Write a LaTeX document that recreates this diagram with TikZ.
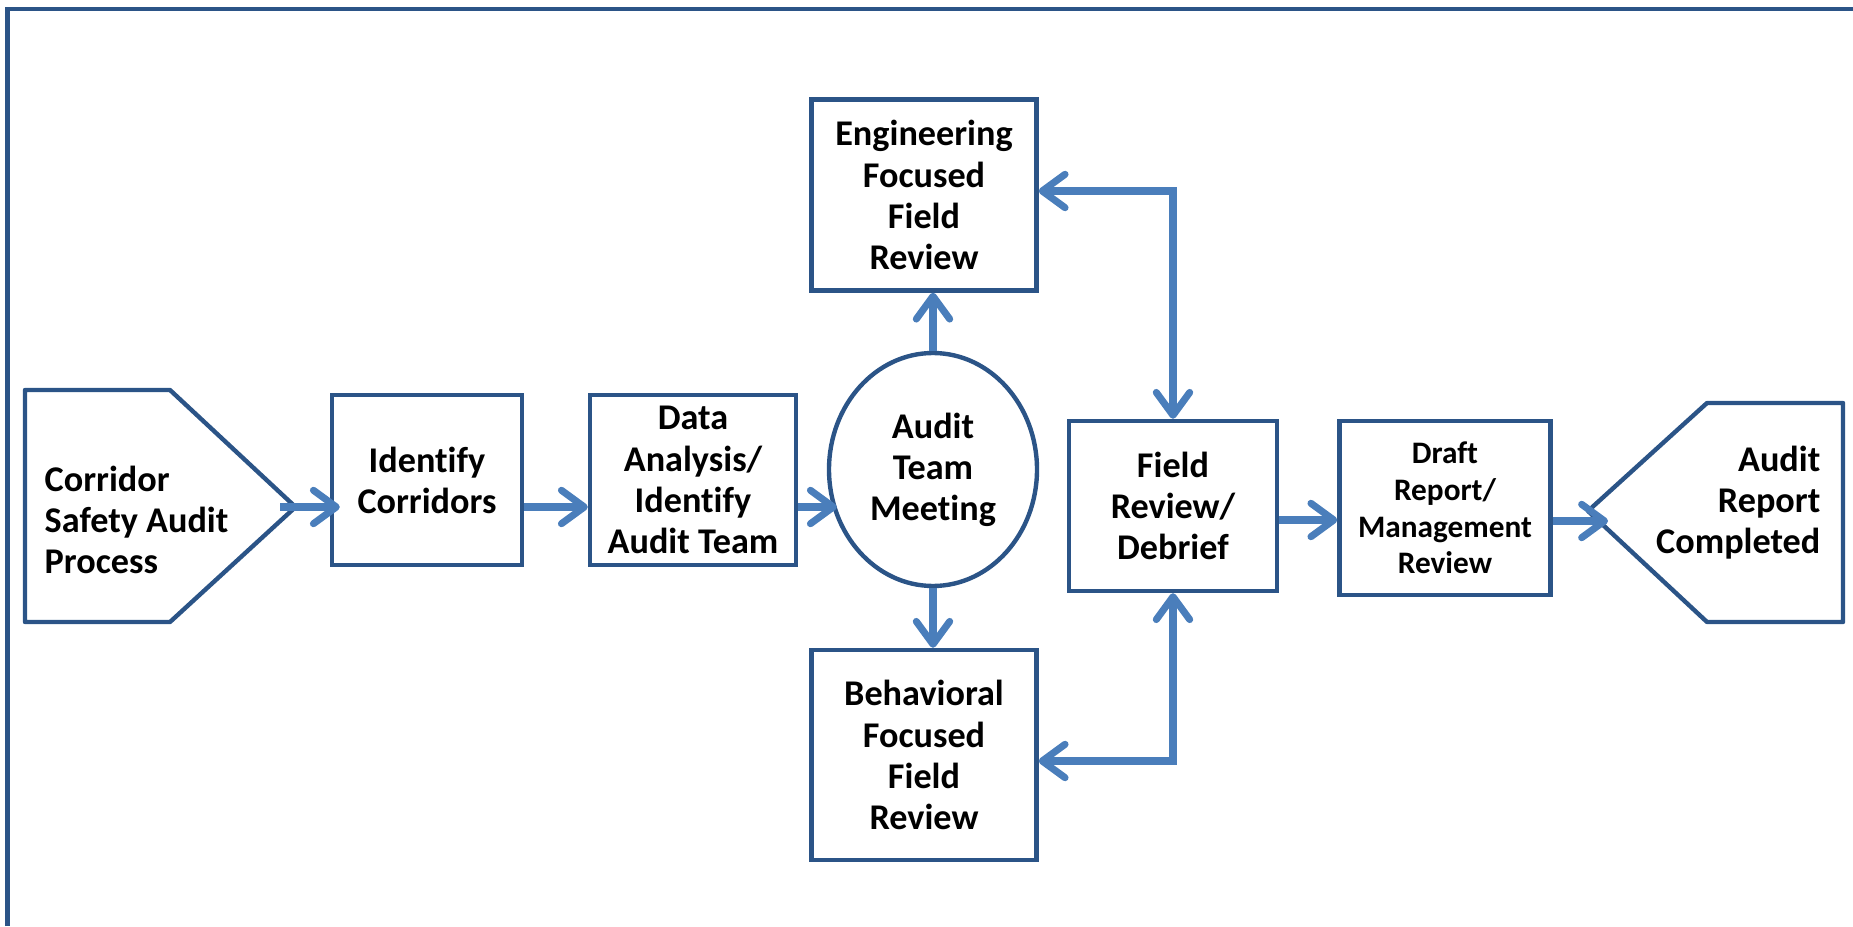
\documentclass[tikz,border=0pt]{standalone}
\usepackage{fontspec}
\setmainfont{Carlito}[Ligatures=NoCommon]
\usepackage{xcolor}
\usepackage{tikz}
\usetikzlibrary{shapes,arrows.meta,positioning,calc}

\definecolor{boxblue}{HTML}{2B5487}
\definecolor{flowblue}{HTML}{4A7EBB}

\begin{document}
\begin{tikzpicture}[
    stepbox/.style={rectangle, draw=boxblue, line width=1.25pt, align=center,
        font=\bfseries\fontsize{10.3}{11.7}\selectfont, inner sep=1pt},
    flow/.style={draw=flowblue, line width=2pt,
        -{Straight Barb[length=6.5pt,width=9.5pt,round]}},
    both/.style={draw=flowblue, line width=2pt,
        {Straight Barb[length=6.5pt,width=9.5pt,round]}-{Straight Barb[length=6.5pt,width=9.5pt,round]}}
]
    \useasboundingbox (0,0) rectangle (18.53,9.26);
    \draw[boxblue, line width=1.2pt] (0.076,0) -- (0.076,9.17) -- (18.6,9.17);

    % Start and end shapes
    \draw[boxblue, line width=1.25pt, line join=round]
        (0.25,5.36) -- (1.70,5.36) -- (2.955,4.19) -- (1.70,3.04) -- (0.25,3.04) -- cycle;
    \coordinate (starttip) at (2.80,4.19);
    \node[align=left, anchor=west, inner sep=0pt, font=\bfseries\fontsize{10.3}{11.7}\selectfont]
        (start) at (0.44,4.06) {Corridor\\Safety Audit\\Process};

    \draw[boxblue, line width=1.25pt, line join=round]
        (15.88,4.15) -- (17.07,5.23) -- (18.43,5.23) -- (18.43,3.04) -- (17.07,3.04) -- cycle;
    \coordinate (endtip) at (15.88,4.15);
    \node[align=right, anchor=east, inner sep=0pt, font=\bfseries\fontsize{10.3}{11.7}\selectfont]
        (finish) at (18.21,4.23) {Audit\\Report\\Completed};

    % Steps
    \node[stepbox, minimum width=1.90cm, minimum height=1.70cm] (idcor) at (4.27,4.46) {Identify\\Corridors};
    \node[stepbox, minimum width=2.06cm, minimum height=1.70cm] (data) at (6.93,4.46) {Data\\Analysis/\\Identify\\Audit Team};
    \node[stepbox, ellipse, minimum width=2.08cm, minimum height=2.33cm] (meet) at (9.33,4.565) {Audit\\Team\\Meeting};
    \node[stepbox, minimum width=2.25cm, minimum height=1.91cm] (eng) at (9.24,7.31) {Engineering\\Focused\\Field\\Review};
    \node[stepbox, minimum width=2.25cm, minimum height=2.10cm] (beh) at (9.24,1.71) {Behavioral\\Focused\\Field\\Review};
    \node[stepbox, minimum width=2.08cm, minimum height=1.70cm] (field) at (11.73,4.20) {Field\\Review/\\Debrief};
    \node[stepbox, minimum width=2.11cm, minimum height=1.74cm,
        font=\bfseries\fontsize{8.9}{10.4}\selectfont] (draft) at (14.45,4.18) {Draft\\Report/\\Management\\Review};

    % Connectors
    \draw[flow, shorten >=-0.1cm] (starttip) -- (starttip -| idcor.west);
    \draw[flow] (idcor.east |- starttip) -- (starttip -| data.west);
    \draw[flow, shorten >=-0.1cm] (data.east |- starttip) -- (meet.west |- starttip);
    \draw[flow] (meet.north) -- (meet.north |- eng.south);
    \draw[flow] (meet.south) -- (meet.south |- beh.north);
    \draw[both] ([yshift=0.04cm]eng.east) -| (field.north);
    \draw[both] ([yshift=-0.06cm]beh.east) -| (field.south);
    \draw[flow] ([yshift=-0.14cm]field.east) -- ([yshift=-0.14cm]field.east -| draft.west);
    \draw[flow, shorten >=-0.2cm] ([yshift=-0.13cm]draft.east) -- ([yshift=-0.13cm]draft.east -| endtip);
\end{tikzpicture}
\end{document}
